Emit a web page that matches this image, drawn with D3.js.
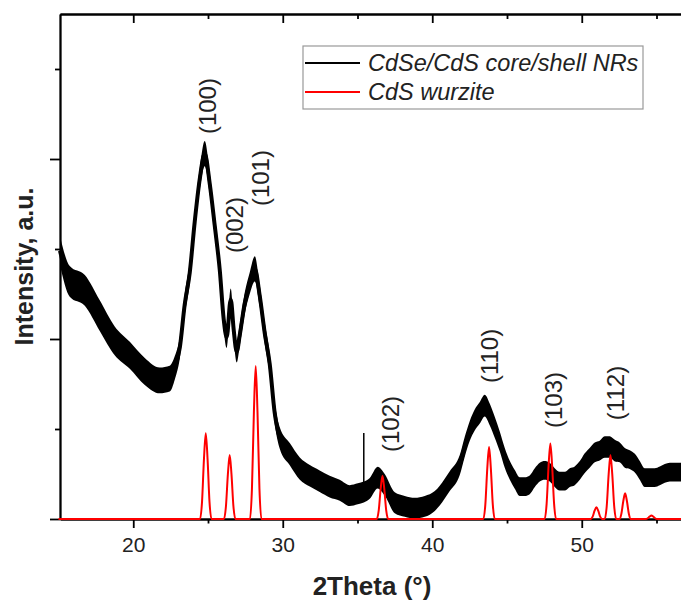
<!DOCTYPE html>
<meta charset="utf-8">
<head>
<meta charset="utf-8">
<title>XRD</title>
<style>
body { margin: 0; background: #fff; }
svg { display: block; font-family: "Liberation Sans", Arial, sans-serif; }
.axis path, .axis line { fill: none; stroke: #000; stroke-width: 1.8; }
.axis text { font-size: 21px; fill: #222; font-family: "Liberation Sans", Arial, sans-serif; }
</style>
</head>
<body>
<svg width="681" height="601"></svg>
<script src="https://d3js.org/d3.v7.min.js"></script>
<script>

// CdSe/CdS core/shell NRs (centre of the noisy trace)
var twoTheta = [15.10, 15.75, 16.76, 17.76, 18.76, 19.77, 20.77, 21.77, 22.44, 22.78, 23.11, 23.44, 23.78, 24.11, 24.45, 24.78,
  25.12, 25.45, 25.79, 26.05, 26.25, 26.52, 26.72, 26.92, 27.12, 27.46, 27.79, 28.13, 28.46, 28.80, 29.13, 29.46, 29.80,
  30.47, 31.14, 31.81, 32.47, 33.14, 33.81, 34.48, 35.02, 35.42, 35.82, 36.35, 36.82, 37.49, 38.16, 38.83, 39.50, 40.17,
  40.50, 41.17, 41.84, 42.17, 42.51, 42.84, 43.18, 43.51, 43.85, 44.18, 44.52, 44.85, 45.19, 45.52, 45.85, 46.19, 46.52,
  46.86, 47.19, 47.52, 47.86, 48.19, 48.53, 48.86, 49.20, 49.53, 49.87, 50.20, 50.53, 50.87, 51.20, 51.54, 51.87, 52.21,
  52.54, 52.88, 53.21, 53.55, 53.88, 54.21, 54.55, 54.88, 55.22, 55.89, 56.62, 57.00];
var intensity = [1.49, 1.32, 1.27, 1.13, 0.99, 0.91, 0.82, 0.77, 0.78, 0.84, 0.95, 1.19, 1.37, 1.65, 1.89, 2.03,
  1.86, 1.63, 1.38, 1.11, 1.01, 1.22, 1.05, 0.93, 1.02, 1.20, 1.31, 1.39, 1.24, 1.03, 0.86, 0.59, 0.45,
  0.36, 0.28, 0.24, 0.21, 0.18, 0.16, 0.13, 0.14, 0.15, 0.17, 0.23, 0.19, 0.09, 0.07, 0.06, 0.07, 0.10,
  0.13, 0.21, 0.30, 0.40, 0.49, 0.55, 0.59, 0.63, 0.58, 0.51, 0.43, 0.34, 0.27, 0.22, 0.18, 0.18, 0.19,
  0.23, 0.26, 0.27, 0.26, 0.23, 0.21, 0.21, 0.23, 0.24, 0.27, 0.31, 0.34, 0.37, 0.38, 0.40, 0.40, 0.38,
  0.37, 0.34, 0.33, 0.31, 0.27, 0.23, 0.23, 0.23, 0.24, 0.26, 0.26, 0.26];
// half height of the noise band around the trace
var noise = [0.08, 0.085, 0.085, 0.085, 0.08, 0.075, 0.075, 0.072, 0.072, 0.065, 0.06, 0.06, 0.06, 0.06, 0.06, 0.07,
  0.06, 0.06, 0.06, 0.06, 0.06, 0.06, 0.06, 0.06, 0.06, 0.06, 0.06, 0.07, 0.06, 0.06, 0.06, 0.06, 0.06,
  0.062, 0.062, 0.06, 0.06, 0.06, 0.058, 0.058, 0.058, 0.058, 0.058, 0.06, 0.06, 0.058, 0.058, 0.058, 0.058, 0.055,
  0.055, 0.055, 0.055, 0.055, 0.055, 0.058, 0.06, 0.06, 0.06, 0.058, 0.055, 0.055, 0.052, 0.052, 0.052, 0.052, 0.052,
  0.052, 0.052, 0.052, 0.052, 0.052, 0.052, 0.052, 0.052, 0.052, 0.052, 0.055, 0.055, 0.055, 0.055, 0.06, 0.06, 0.06,
  0.055, 0.055, 0.052, 0.052, 0.052, 0.052, 0.052, 0.052, 0.052, 0.052, 0.052, 0.052];
// single narrow spike in the measured trace
var spikeX = [35.42], spikeBase = [0.15], spikeTop = [0.478];

// CdS wurzite reference pattern
var refX = [15.00, 24.47, 24.60, 24.73, 24.85, 24.97, 25.10, 25.23,
  26.07, 26.20, 26.33, 26.45, 26.57, 26.70, 26.83,
  27.81, 27.94, 28.07, 28.19, 28.31, 28.44, 28.57,
  36.29, 36.42, 36.55, 36.67, 36.79, 36.92, 37.05,
  43.42, 43.55, 43.68, 43.80, 43.92, 44.05, 44.18,
  47.52, 47.65, 47.78, 47.90, 48.02, 48.15, 48.28,
  50.60, 50.73, 50.86, 50.98, 51.10, 51.23, 51.36,
  51.54, 51.67, 51.80, 51.92, 52.04, 52.17, 52.30,
  52.52, 52.65, 52.78, 52.90, 53.02, 53.15, 53.28,
  54.28, 54.41, 54.54, 54.66, 54.78, 54.91, 55.04, 58.00];
var refY = [0, 0, 0.095, 0.334, 0.477, 0.334, 0.095, 0,
  0, 0.071, 0.249, 0.355, 0.249, 0.071, 0,
  0, 0.17, 0.595, 0.85, 0.595, 0.17, 0,
  0, 0.048, 0.168, 0.24, 0.168, 0.048, 0,
  0, 0.08, 0.28, 0.40, 0.28, 0.08, 0,
  0, 0.084, 0.294, 0.42, 0.294, 0.084, 0,
  0, 0.013, 0.046, 0.065, 0.046, 0.013, 0,
  0, 0.071, 0.249, 0.355, 0.249, 0.071, 0,
  0, 0.029, 0.10, 0.143, 0.10, 0.029, 0,
  0, 0.004, 0.014, 0.02, 0.014, 0.004, 0, 0];

// reflection labels
var hkl = ["(100)", "(002)", "(101)", "(102)", "(110)", "(103)", "(112)"];
var hklX = [24.98, 26.79, 28.53, 37.22, 43.85, 48.13, 52.27];
var hklY = [2.294, 1.633, 1.894, 0.528, 0.906, 0.661, 0.70];

var seriesNames = ["CdSe/CdS core/shell NRs", "CdS wurzite"];
var seriesColors = ["#000", "#ff0000"];

var xMajor = [20, 30, 40, 50], xMinor = [25, 35, 45, 55];
var yMajor = [0, 1, 2], yMinor = [0.5, 1.5, 2.5];

var svg = d3.select("svg"),
    plotLeft = 60, plotTop = 14, plotBottom = 519;

var x = d3.scaleLinear().domain([15.1, 57]).range([plotLeft, plotLeft + (57 - 15.1) * 14.95]);
var y = d3.scaleLinear().domain([0, (plotBottom - plotTop) / 180]).range([plotBottom, plotTop]);

// axes
svg.append("g").attr("class", "axis").attr("transform", "translate(0," + plotBottom + ")")
    .call(d3.axisBottom(x).tickValues(xMajor).tickSize(9).tickSizeOuter(0).tickPadding(9).tickFormat(d3.format("d")));
svg.append("g").attr("class", "axis").attr("transform", "translate(0," + plotBottom + ")")
    .call(d3.axisBottom(x).tickValues(xMinor).tickSize(4.5).tickSizeOuter(0).tickFormat(""));
svg.append("g").attr("class", "axis").attr("transform", "translate(0," + plotTop + ")")
    .call(d3.axisTop(x).tickValues(xMajor).tickSize(-9).tickSizeOuter(0).tickFormat(""));
svg.append("g").attr("class", "axis").attr("transform", "translate(0," + plotTop + ")")
    .call(d3.axisTop(x).tickValues(xMinor).tickSize(-5).tickSizeOuter(0).tickFormat(""));
svg.append("g").attr("class", "axis").attr("transform", "translate(" + plotLeft + ",0)")
    .call(d3.axisLeft(y).tickValues(yMajor).tickSize(10).tickSizeOuter(0).tickFormat(""));
svg.append("g").attr("class", "axis").attr("transform", "translate(" + plotLeft + ",0)")
    .call(d3.axisLeft(y).tickValues(yMinor).tickSize(5).tickSizeOuter(0).tickFormat(""));

svg.append("text")
    .attr("x", 372).attr("y", 595)
    .attr("text-anchor", "middle")
    .attr("font-weight", "bold").attr("font-size", 26).attr("fill", "#222")
    .text("2Theta (°)");

svg.append("text")
    .attr("transform", "translate(33," + ((plotTop + plotBottom) / 2) + ") rotate(-90)")
    .attr("text-anchor", "middle")
    .attr("font-weight", "bold").attr("font-size", 25).attr("fill", "#222")
    .text("Intensity, a.u.");

// measured trace: noise band + centre line
var meas = twoTheta.map(function(t, i) { return {t: t, v: intensity[i], n: noise[i]}; });

svg.append("path")
    .datum(meas)
    .attr("fill", "#000")
    .attr("d", d3.area()
      .x(function(d) { return x(d.t); })
      .y0(function(d) { return y(d.v - d.n); })
      .y1(function(d) { return y(d.v + d.n); })
      .curve(d3.curveMonotoneX));

svg.append("path")
    .datum(meas)
    .attr("fill", "none")
    .attr("stroke", "#000")
    .attr("stroke-width", 4)
    .attr("stroke-linejoin", "round")
    .attr("d", d3.line()
      .x(function(d) { return x(d.t); })
      .y(function(d) { return y(d.v); })
      .curve(d3.curveMonotoneX));

svg.selectAll(".spike")
    .data(spikeX)
  .enter().append("line")
    .attr("class", "spike")
    .attr("x1", function(d) { return x(d); })
    .attr("x2", function(d) { return x(d); })
    .attr("y1", function(d, i) { return y(spikeBase[i]); })
    .attr("y2", function(d, i) { return y(spikeTop[i]); })
    .attr("stroke", "#000").attr("stroke-width", 1.5);

// reference pattern
var ref = refX.map(function(t, i) { return {t: t, v: refY[i]}; });
svg.append("path")
    .datum(ref)
    .attr("fill", "none")
    .attr("stroke", seriesColors[1])
    .attr("stroke-width", 2)
    .attr("d", d3.line()
      .x(function(d) { return x(d.t); })
      .y(function(d) { return y(d.v); })
      .curve(d3.curveMonotoneX));

// hkl labels
svg.selectAll(".hkl")
    .data(hkl)
  .enter().append("text")
    .attr("class", "hkl")
    .attr("transform", function(d, i) { return "translate(" + x(hklX[i]) + "," + y(hklY[i]) + ") rotate(-90)"; })
    .attr("text-anchor", "middle")
    .attr("dy", "0.35em")
    .attr("font-size", 24).attr("fill", "#222")
    .text(function(d) { return d; });

// legend
var legend = svg.append("g").attr("transform", "translate(303,46)");
legend.append("rect")
    .attr("width", 340).attr("height", 63)
    .attr("fill", "#fff").attr("stroke", "#999").attr("stroke-width", 1.2);
var item = legend.selectAll(".item")
    .data(seriesNames)
  .enter().append("g")
    .attr("class", "item")
    .attr("transform", function(d, i) { return "translate(0," + (17 + i * 29) + ")"; });
item.append("line")
    .attr("x1", 2).attr("x2", 57)
    .attr("stroke", function(d, i) { return seriesColors[i]; })
    .attr("stroke-width", 1.8);
item.append("text")
    .attr("x", 65).attr("dy", "0.36em")
    .attr("font-style", "italic").attr("font-size", 23.5).attr("fill", "#222")
    .text(function(d) { return d; });

</script>
</body>
